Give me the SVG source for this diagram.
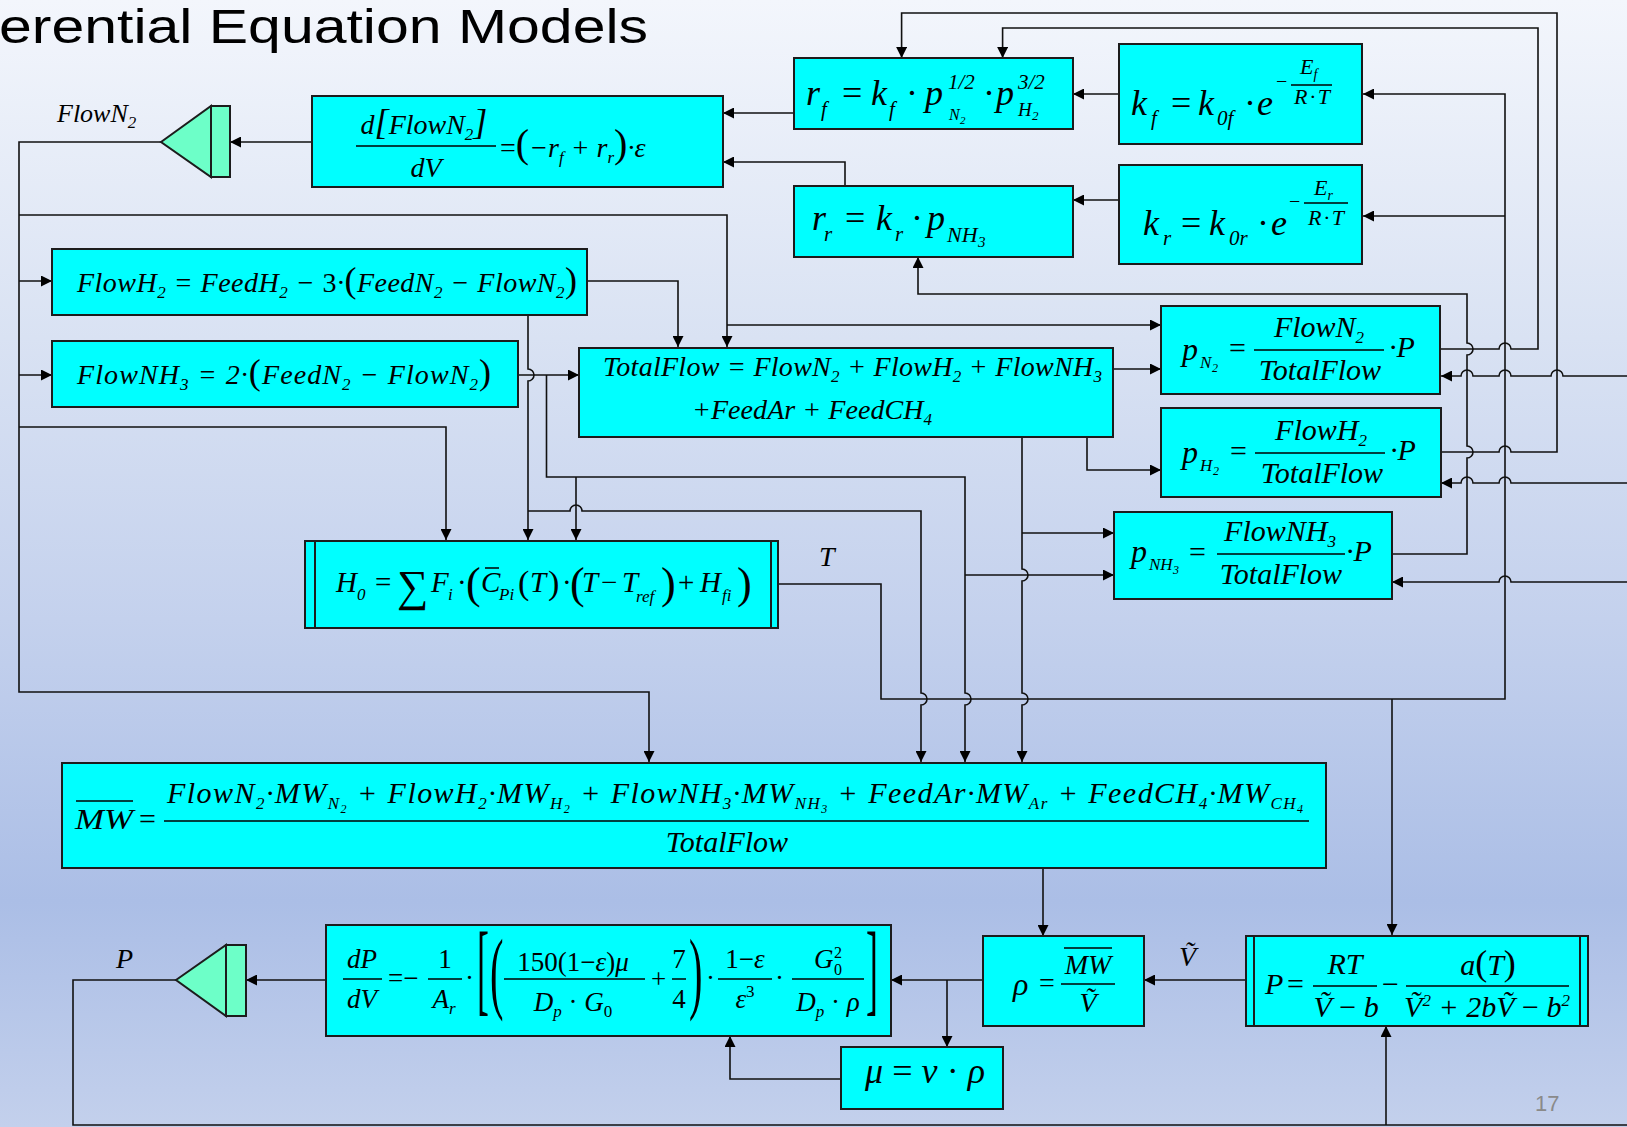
<svg xmlns="http://www.w3.org/2000/svg" width="1627" height="1127" viewBox="0 0 1627 1127">
<defs>
<linearGradient id="bg" x1="0" y1="0" x2="0" y2="1">
<stop offset="0" stop-color="#f3f6fc"/>
<stop offset="0.3" stop-color="#d9e2f3"/>
<stop offset="0.55" stop-color="#c4d1ed"/>
<stop offset="0.8" stop-color="#abbee6"/>
<stop offset="1" stop-color="#c3d0ec"/>
</linearGradient>
<marker id="ah" viewBox="0 0 10 10" refX="10" refY="5" markerWidth="11" markerHeight="11" markerUnits="userSpaceOnUse" orient="auto"><path d="M0,0L10,5L0,10z" fill="#000"/></marker>
</defs>
<style>
.box{fill:#00ffff;stroke:#1c1c1c;stroke-width:2}
.int{fill:#6dffc8;stroke:#1c1c1c;stroke-width:2}
.dbl{fill:none;stroke:#1c1c1c;stroke-width:2}
.c{fill:none;stroke:#111;stroke-width:1.6}
.a{marker-end:url(#ah)}
.bar{stroke:#000;stroke-width:1.5}
.m{font-family:"Liberation Serif","Times New Roman",serif;font-style:italic;fill:#000}
.n{font-style:normal}
.sb{font-size:17px;baseline-shift:-6px}
.ss{font-size:12px;baseline-shift:-10px}
.sp{font-size:17px;baseline-shift:11px}
.mid{text-anchor:middle}
</style>
<rect x="0" y="0" width="1627" height="1127" fill="url(#bg)"/>
<text x="-1" y="43" font-family="'Liberation Sans', Arial, sans-serif" font-size="48" fill="#000" textLength="649" lengthAdjust="spacingAndGlyphs">erential Equation Models</text>

<g id="connectors">
<path class="c a" d="M312,142H230"/>
<path class="c a" d="M161,142H19V692H649V762"/>
<path class="c a" d="M19,215H727V347"/>
<path class="c a" d="M727,325H1161"/>
<path class="c a" d="M19,281H52"/>
<path class="c a" d="M19,375H52"/>
<path class="c a" d="M19,427H446V540"/>
<path class="c a" d="M587,281H678V347"/>
<path class="c a" d="M528,315V369A6,6 0 0 1 528,381V540"/>
<path class="c a" d="M528,511H570A6,6 0 0 1 582,511H921V693A6,6 0 0 1 921,705V762"/>
<path class="c a" d="M518,375H579"/>
<path class="c a" d="M546.5,375V477H965V693A6,6 0 0 1 965,705V762"/>
<path class="c a" d="M576,477V540"/>
<path class="c a" d="M965,575H1114"/>
<path class="c a" d="M1113,369H1161"/>
<path class="c a" d="M1087,437V470H1161"/>
<path class="c a" d="M1022,437V569A6,6 0 0 1 1022,581V693A6,6 0 0 1 1022,705V762"/>
<path class="c a" d="M1022,533H1114"/>
<path class="c a" d="M778,584H881V699H1505V94H1363"/>
<path class="c a" d="M1505,216H1363"/>
<path class="c a" d="M1392,699V935"/>
<path class="c a" d="M1119,94H1073"/>
<path class="c a" d="M1119,200H1073"/>
<path class="c a" d="M794,113H723"/>
<path class="c a" d="M845,186V162H723"/>
<path class="c a" d="M1440,349H1499A6,6 0 0 1 1511,349H1538V28H1002.6V58"/>
<path class="c a" d="M1441,452H1499A6,6 0 0 1 1511,452H1557V13H901.6V58"/>
<path class="c a" d="M1392,554H1467V458A6,6 0 0 0 1467,446V355A6,6 0 0 0 1467,343V294H918V257"/>
<path class="c a" d="M1627,376H1563A6,6 0 0 0 1551,376H1511A6,6 0 0 0 1499,376H1473A6,6 0 0 0 1461,376H1441"/>
<path class="c a" d="M1627,483H1511A6,6 0 0 0 1499,483H1473A6,6 0 0 0 1461,483H1441"/>
<path class="c a" d="M1627,582H1511A6,6 0 0 0 1499,582H1392"/>
<path class="c a" d="M1043,868V936"/>
<path class="c a" d="M1246,980H1144"/>
<path class="c a" d="M983,980H891"/>
<path class="c a" d="M947,980V1047"/>
<path class="c a" d="M841,1079H730V1036"/>
<path class="c a" d="M326,980H246"/>
<path class="c" d="M176,980H73V1125H1627"/>
<path class="c a" d="M1386,1125V1026"/>
</g>

<g id="n-int-flown2">
<polygon class="int" points="161,142 211,106 211,177"/>
<rect class="int" x="211" y="106" width="19" height="71"/>
<text class="m" font-size="26" x="57" y="122">FlowN<tspan class="sb">2</tspan></text>
</g>

<g id="n-dflown2">
<rect class="box" x="312" y="96" width="411" height="91"/>
<text class="m mid" font-size="28" x="424" y="134">d<tspan font-size="36">[</tspan>FlowN<tspan class="sb">2</tspan><tspan font-size="36">]</tspan></text>
<line class="bar" x1="356" y1="146" x2="496" y2="146"/>
<text class="m mid" font-size="28" x="426" y="177">dV</text>
<text class="m" font-size="28" x="500" y="157"><tspan class="n">=</tspan><tspan class="n" font-size="40">(</tspan>−r<tspan class="sb">f</tspan> + r<tspan class="sb">r</tspan><tspan class="n" font-size="40">)</tspan>·ε</text>
</g>

<g id="n-rf">
<rect class="box" x="794" y="58" width="279" height="71"/>
<text class="m" font-size="36"><tspan x="806" y="105">r</tspan><tspan x="821" y="116" font-size="21">f</tspan><tspan class="n" x="842" y="105">=</tspan><tspan x="871" y="105">k</tspan><tspan x="889" y="116" font-size="21">f</tspan><tspan class="n" x="906" y="105">·</tspan><tspan x="925" y="105">p</tspan><tspan x="948" y="89" font-size="21">1/2</tspan><tspan x="949" y="120" font-size="16">N</tspan><tspan x="960" y="124" font-size="11">2</tspan><tspan class="n" x="983" y="105">·</tspan><tspan x="996" y="105">p</tspan><tspan x="1018" y="89" font-size="21">3/2</tspan><tspan x="1018" y="116" font-size="19">H</tspan><tspan x="1032" y="120" font-size="13">2</tspan></text>
</g>

<g id="n-kf">
<rect class="box" x="1119" y="44" width="243" height="100"/>
<text class="m" font-size="36"><tspan x="1131" y="115">k</tspan><tspan x="1151" y="125" font-size="21">f</tspan><tspan class="n" x="1171" y="115">=</tspan><tspan x="1198" y="115">k</tspan><tspan x="1217" y="125" font-size="21">0f</tspan><tspan class="n" x="1244" y="115">·</tspan><tspan x="1257" y="115">e</tspan></text>
<text class="m" font-size="20" x="1276" y="88"><tspan class="n">−</tspan></text>
<text class="m" font-size="22" x="1300" y="74">E<tspan font-size="14" baseline-shift="-5">f</tspan></text>
<line class="bar" x1="1291" y1="85" x2="1332" y2="85"/>
<text class="m" font-size="22" x="1294" y="104" textLength="36">R·T</text>
</g>

<g id="n-rr">
<rect class="box" x="794" y="186" width="279" height="71"/>
<text class="m" font-size="36"><tspan x="812" y="230">r</tspan><tspan x="824" y="241" font-size="21">r</tspan><tspan class="n" x="845" y="230">=</tspan><tspan x="876" y="230">k</tspan><tspan x="895" y="241" font-size="21">r</tspan><tspan class="n" x="911" y="230">·</tspan><tspan x="927" y="230">p</tspan><tspan x="947" y="242" font-size="22">NH</tspan><tspan x="978" y="247" font-size="15">3</tspan></text>
</g>

<g id="n-kr">
<rect class="box" x="1119" y="165" width="243" height="99"/>
<text class="m" font-size="36"><tspan x="1143" y="235">k</tspan><tspan x="1163" y="245" font-size="21">r</tspan><tspan class="n" x="1181" y="235">=</tspan><tspan x="1209" y="235">k</tspan><tspan x="1229" y="245" font-size="21">0r</tspan><tspan class="n" x="1257" y="235">·</tspan><tspan x="1271" y="235">e</tspan></text>
<text class="m" font-size="20" x="1289" y="208"><tspan class="n">−</tspan></text>
<text class="m" font-size="22" x="1314" y="195">E<tspan font-size="14" baseline-shift="-5">r</tspan></text>
<line class="bar" x1="1304" y1="203" x2="1348" y2="203"/>
<text class="m" font-size="22" x="1308" y="225" textLength="36">R·T</text>
</g>

<g id="n-flowh2">
<rect class="box" x="52" y="249" width="535" height="66"/>
<text class="m" font-size="28" x="77" y="292" textLength="500">FlowH<tspan class="sb">2</tspan> = FeedH<tspan class="sb">2</tspan> − <tspan class="n">3</tspan>·<tspan class="n" font-size="36">(</tspan>FeedN<tspan class="sb">2</tspan> − FlowN<tspan class="sb">2</tspan><tspan class="n" font-size="36">)</tspan></text>
</g>

<g id="n-flownh3">
<rect class="box" x="52" y="341" width="466" height="66"/>
<text class="m" font-size="28" x="77" y="384" textLength="414">FlowNH<tspan class="sb">3</tspan> = 2·<tspan class="n" font-size="36">(</tspan>FeedN<tspan class="sb">2</tspan> − FlowN<tspan class="sb">2</tspan><tspan class="n" font-size="36">)</tspan></text>
</g>

<g id="n-totalflow">
<rect class="box" x="579" y="348" width="534" height="89"/>
<text class="m" font-size="28" x="603" y="376" textLength="499">TotalFlow = FlowN<tspan class="sb">2</tspan> + FlowH<tspan class="sb">2</tspan> + FlowNH<tspan class="sb">3</tspan></text>
<text class="m" font-size="28" x="692" y="419" textLength="240">+FeedAr + FeedCH<tspan class="sb">4</tspan></text>
</g>

<g id="n-pn2">
<rect class="box" x="1161" y="306" width="279" height="88"/>
<text class="m" font-size="32"><tspan x="1182" y="360">p</tspan><tspan x="1200" y="368" font-size="17">N</tspan><tspan x="1212" y="372" font-size="12">2</tspan><tspan class="n" x="1229" y="358" font-size="30">=</tspan></text>
<text class="m mid" font-size="30" x="1319" y="337">FlowN<tspan class="sb">2</tspan></text>
<line class="bar" x1="1254" y1="350" x2="1384" y2="350"/>
<text class="m mid" font-size="30" x="1320" y="380">TotalFlow</text>
<text class="m" font-size="30" x="1389" y="357">·P</text>
</g>

<g id="n-ph2">
<rect class="box" x="1161" y="408" width="280" height="89"/>
<text class="m" font-size="32"><tspan x="1182" y="463">p</tspan><tspan x="1200" y="471" font-size="17">H</tspan><tspan x="1213" y="475" font-size="12">2</tspan><tspan class="n" x="1230" y="461" font-size="30">=</tspan></text>
<text class="m mid" font-size="30" x="1321" y="440">FlowH<tspan class="sb">2</tspan></text>
<line class="bar" x1="1255" y1="453" x2="1385" y2="453"/>
<text class="m mid" font-size="30" x="1322" y="483">TotalFlow</text>
<text class="m" font-size="30" x="1390" y="460">·P</text>
</g>

<g id="n-pnh3">
<rect class="box" x="1114" y="512" width="278" height="87"/>
<text class="m" font-size="32"><tspan x="1131" y="562">p</tspan><tspan x="1149" y="570" font-size="17">NH</tspan><tspan x="1173" y="574" font-size="12">3</tspan><tspan class="n" x="1189" y="562" font-size="30">=</tspan></text>
<text class="m mid" font-size="30" x="1280" y="541">FlowNH<tspan class="sb">3</tspan></text>
<line class="bar" x1="1217" y1="554" x2="1345" y2="554"/>
<text class="m mid" font-size="30" x="1281" y="584">TotalFlow</text>
<text class="m" font-size="30" x="1346" y="561">·P</text>
</g>

<g id="n-h0">
<rect class="box" x="305" y="541" width="473" height="87"/>
<line class="dbl" x1="315" y1="541" x2="315" y2="628"/>
<line class="dbl" x1="771" y1="541" x2="771" y2="628"/>
<text class="m" font-size="29"><tspan x="336" y="592">H</tspan><tspan x="357" y="600" font-size="17">0</tspan><tspan class="n" x="375" y="592">=</tspan><tspan class="n" x="397" y="601" font-size="44">∑</tspan><tspan x="431" y="592">F</tspan><tspan x="448" y="600" font-size="17">i</tspan><tspan class="n" x="457" y="592">·</tspan><tspan class="n" x="466" y="598" font-size="44">(</tspan><tspan x="481" y="592">C</tspan><tspan x="499" y="600" font-size="17">Pi</tspan><tspan class="n" x="518" y="594" font-size="34">(</tspan><tspan x="530" y="592">T</tspan><tspan class="n" x="548" y="594" font-size="34">)</tspan><tspan class="n" x="562" y="592">·</tspan><tspan class="n" x="570" y="598" font-size="44">(</tspan><tspan x="582" y="592">T</tspan><tspan class="n" x="601" y="592">−</tspan><tspan x="622" y="592">T</tspan><tspan x="636" y="602" font-size="17">ref</tspan><tspan class="n" x="661" y="598" font-size="44">)</tspan><tspan class="n" x="678" y="592">+</tspan><tspan x="700" y="592">H</tspan><tspan x="722" y="601" font-size="17">fi</tspan><tspan class="n" x="737" y="598" font-size="44">)</tspan></text>
<line class="bar" x1="485" y1="568" x2="499" y2="568"/>
</g>
<text class="m" font-size="28" x="819" y="566">T</text>

<g id="n-mw">
<rect class="box" x="62" y="763" width="1264" height="105"/>
<text class="m" font-size="30" x="75" y="829" textLength="58" lengthAdjust="spacingAndGlyphs">MW</text>
<line class="bar" x1="76" y1="801" x2="133" y2="801"/>
<text class="m n" font-size="30" x="139" y="829">=</text>
<line class="bar" x1="164" y1="821" x2="1309" y2="821"/>
<text class="m" font-size="30" x="167" y="803" textLength="1136">FlowN<tspan class="sb">2</tspan>·MW<tspan class="sb">N</tspan><tspan class="ss">2</tspan> + FlowH<tspan class="sb">2</tspan>·MW<tspan class="sb">H</tspan><tspan class="ss">2</tspan> + FlowNH<tspan class="sb">3</tspan>·MW<tspan class="sb">NH</tspan><tspan class="ss">3</tspan> + FeedAr·MW<tspan class="sb">Ar</tspan> + FeedCH<tspan class="sb">4</tspan>·MW<tspan class="sb">CH</tspan><tspan class="ss">4</tspan></text>
<text class="m mid" font-size="30" x="727" y="852">TotalFlow</text>
</g>

<g id="n-rho">
<rect class="box" x="983" y="936" width="161" height="90"/>
<text class="m" font-size="32" x="1013" y="995">ρ</text>
<text class="m n" font-size="28" x="1039" y="992">=</text>
<text class="m mid" font-size="28" x="1088" y="974">MW</text>
<line class="bar" x1="1064" y1="948" x2="1112" y2="948"/>
<line class="bar" x1="1061" y1="984" x2="1115" y2="984"/>
<text class="m mid" font-size="28" x="1088" y="1012">Ṽ</text>
</g>
<text class="m" font-size="28" x="1179" y="966">Ṽ</text>

<g id="n-vdw">
<rect class="box" x="1246" y="936" width="342" height="90"/>
<line class="dbl" x1="1254" y1="936" x2="1254" y2="1026"/>
<line class="dbl" x1="1580" y1="936" x2="1580" y2="1026"/>
<text class="m" font-size="30" x="1265" y="994">P</text>
<text class="m n" font-size="30" x="1287" y="994">=</text>
<text class="m mid" font-size="30" x="1345" y="974">RT</text>
<line class="bar" x1="1313" y1="986" x2="1377" y2="986"/>
<text class="m mid" font-size="30" x="1346" y="1017">Ṽ <tspan class="n">−</tspan> b</text>
<text class="m n" font-size="30" x="1382" y="994">−</text>
<text class="m mid" font-size="30" x="1488" y="975">a<tspan class="n" font-size="36">(</tspan>T<tspan class="n" font-size="36">)</tspan></text>
<line class="bar" x1="1406" y1="986" x2="1569" y2="986"/>
<text class="m mid" font-size="30" x="1487" y="1017">Ṽ<tspan class="sp">2</tspan> + 2bṼ <tspan class="n">−</tspan> b<tspan class="sp">2</tspan></text>
</g>

<g id="n-dp">
<rect class="box" x="326" y="925" width="565" height="111"/>
<text class="m mid" font-size="27" x="362" y="968">dP</text>
<line class="bar" x1="343" y1="979" x2="382" y2="979"/>
<text class="m mid" font-size="27" x="362" y="1008">dV</text>
<text class="m n" font-size="27" x="388" y="987">=−</text>
<text class="m n mid" font-size="27" x="445" y="968">1</text>
<line class="bar" x1="428" y1="979" x2="462" y2="979"/>
<text class="m mid" font-size="27" x="444" y="1008">A<tspan class="sb">r</tspan></text>
<text class="m n" font-size="27" x="465" y="987">·</text>
<text class="m n" font-size="102" transform="translate(477,1002) scale(0.35,1)">[</text>
<text class="m n" font-size="90" transform="translate(490,1002) scale(0.45,1)">(</text>
<text class="m mid" font-size="27" x="573" y="971"><tspan class="n">150(1−</tspan>ε<tspan class="n">)</tspan>μ</text>
<line class="bar" x1="504" y1="979" x2="645" y2="979"/>
<text class="m mid" font-size="27" x="573" y="1011">D<tspan class="sb">p</tspan> <tspan class="n">·</tspan> G<tspan class="sb n">0</tspan></text>
<text class="m n" font-size="27" x="651" y="988">+</text>
<text class="m n mid" font-size="27" x="679" y="968">7</text>
<line class="bar" x1="672" y1="979" x2="686" y2="979"/>
<text class="m n mid" font-size="27" x="679" y="1008">4</text>
<text class="m n" font-size="90" transform="translate(689,1002) scale(0.45,1)">)</text>
<text class="m n" font-size="27" x="706" y="987">·</text>
<text class="m mid" font-size="27" x="745" y="968"><tspan class="n">1−</tspan>ε</text>
<line class="bar" x1="718" y1="979" x2="772" y2="979"/>
<text class="m mid" font-size="27" x="745" y="1008">ε<tspan class="sp n">3</tspan></text>
<text class="m n" font-size="27" x="775" y="987">·</text>
<text class="m" font-size="27"><tspan x="814" y="968">G</tspan><tspan class="n" x="834" y="958" font-size="16">2</tspan><tspan class="n" x="834" y="975" font-size="16">0</tspan></text>
<line class="bar" x1="792" y1="979" x2="864" y2="979"/>
<text class="m mid" font-size="27" x="828" y="1011">D<tspan class="sb">p</tspan> <tspan class="n">·</tspan> ρ</text>
<text class="m n" font-size="102" transform="translate(866,1002) scale(0.35,1)">]</text>
</g>

<g id="n-mu">
<rect class="box" x="841" y="1047" width="162" height="62"/>
<text class="m" font-size="36" x="865" y="1083" textLength="120">μ <tspan class="n">=</tspan> ν <tspan class="n">·</tspan> ρ</text>
</g>

<g id="n-int-p">
<polygon class="int" points="176,980 226,945 226,1016"/>
<rect class="int" x="226" y="945" width="20" height="71"/>
<text class="m" font-size="28" x="116" y="968">P</text>
</g>

<text x="1535" y="1111" font-family="'Liberation Sans', Arial, sans-serif" font-size="22" fill="#8a8a8a">17</text>
</svg>
